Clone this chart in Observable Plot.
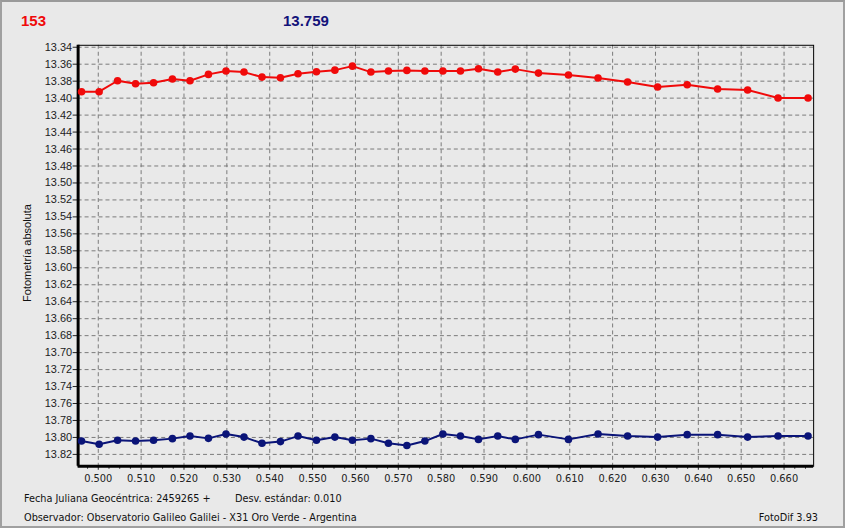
<!DOCTYPE html>
<html>
<head>
<meta charset="utf-8">
<script src="https://cdn.jsdelivr.net/npm/d3@7"></script>
<script src="https://cdn.jsdelivr.net/npm/@observablehq/plot@0.6"></script>
<style>
  html, body { margin: 0; padding: 0; }
  body { width: 845px; height: 528px; overflow: hidden; background: #ececec; }
  #win { position: relative; width: 845px; height: 528px; box-sizing: border-box;
         border: 2px solid #a0a0a0; border-top-color: #9a9a9a; background: #e9e9e9; }
  #chart { position: absolute; left: -2px; top: -2px; }
  .t { position: absolute; white-space: nowrap; }
  .title { font-family: "Liberation Sans", Arial, sans-serif; font-weight: bold; font-size: 15px; top: 10px; }
  .foot { font-family: "DejaVu Sans Condensed", "DejaVu Sans", sans-serif; font-stretch: condensed; font-size: 10.8px; color: #111; }
  .ylab { font-family: "Liberation Sans", Arial, sans-serif; font-size: 11px; color: #111;
          transform: translate(-50%, -50%) rotate(-90deg); }
</style>
</head>
<body>
<div id="win"></div>
<script>
// Data
const titleLeft = "153";
const titleRight = "13.759";
const yLabel = "Fotometría absoluta";
const footLine1a = "Fecha Juliana Geocéntrica: 2459265 +";
const footLine1b = "Desv. estándar: 0.010";
const footLine2 = "Observador: Observatorio Galileo Galilei - X31 Oro Verde - Argentina";
const footRight = "FotoDif 3.93";

const times = [0.4961, 0.5002, 0.5045, 0.5087, 0.5129, 0.5173, 0.5214, 0.5257, 0.5298, 0.5340,
               0.5382, 0.5425, 0.5466, 0.5509, 0.5552, 0.5593, 0.5636, 0.5677, 0.5720, 0.5762,
               0.5804, 0.5845, 0.5887, 0.5932, 0.5973, 0.6027, 0.6097, 0.6166, 0.6235, 0.6305,
               0.6374, 0.6445, 0.6515, 0.6586, 0.6656];
const redMag = [13.3924, 13.3924, 13.3795, 13.3830, 13.3819, 13.3775, 13.3795, 13.3720, 13.3681, 13.3693,
                13.3752, 13.3760, 13.3713, 13.3690, 13.3670, 13.3623, 13.3693, 13.3681, 13.3673, 13.3681,
                13.3681, 13.3681, 13.3654, 13.3693, 13.3658, 13.3705, 13.3728, 13.3763, 13.3810, 13.3869,
                13.3842, 13.3892, 13.3904, 13.3998, 13.3998];
const blueMag = [13.8043, 13.8081, 13.8034, 13.8043, 13.8034, 13.8014, 13.7984, 13.8011, 13.7960, 13.7996,
                 13.8069, 13.8049, 13.7984, 13.8034, 13.7996, 13.8034, 13.8014, 13.8069, 13.8096, 13.8043,
                 13.7960, 13.7984, 13.8023, 13.7984, 13.8023, 13.7967, 13.8023, 13.7960, 13.7984, 13.7996,
                 13.7967, 13.7967, 13.7996, 13.7984, 13.7984];

const xTicks = [0.500, 0.510, 0.520, 0.530, 0.540, 0.550, 0.560, 0.570, 0.580, 0.590,
                0.600, 0.610, 0.620, 0.630, 0.640, 0.650, 0.660];
const yTicks = [13.34, 13.36, 13.38, 13.40, 13.42, 13.44, 13.46, 13.48, 13.50, 13.52,
                13.54, 13.56, 13.58, 13.60, 13.62, 13.64, 13.66, 13.68, 13.70, 13.72,
                13.74, 13.76, 13.78, 13.80, 13.82];
const xMinor = d3.range(0, 68).map(i => +(0.4975 + i * 0.0025).toFixed(4))
  .filter(v => v < 0.6669 && !xTicks.some(t => Math.abs(t - v) < 1e-6));

const xDomain = [0.4953, 0.6669];
const yDomain = [13.3377, 13.834];

const red = times.map((t, i) => ({t, m: redMag[i]}));
const blue = times.map((t, i) => ({t, m: blueMag[i]}));

const redColor = "#f00a0a";
const blueColor = "#0a1478";
const gridStyle = {stroke: "#7a7a7a", strokeOpacity: 1, strokeDasharray: "4,3", strokeWidth: 1};

const chart = Plot.plot({
  width: 845,
  height: 528,
  marginLeft: 78,
  marginRight: 28,
  marginTop: 45,
  marginBottom: 60,
  style: {background: "transparent", fontFamily: "Liberation Sans, Arial, sans-serif", fontSize: "11px", color: "#222"},
  x: {domain: xDomain, label: null},
  y: {domain: yDomain, reverse: true, label: null},
  marks: [
    Plot.gridX(xTicks, gridStyle),
    Plot.gridY(yTicks, gridStyle),
    Plot.axisX(xMinor, {tickSize: 3, text: null, label: null, stroke: "#333"}),
    Plot.axisX(xTicks, {tickSize: 4, tickPadding: 4, tickFormat: d3.format(".3f"), label: null, fill: "#222",
      fontFamily: "DejaVu Sans Condensed, DejaVu Sans, sans-serif", fontSize: 11}),
    Plot.axisY(yTicks, {tickSize: 5, tickPadding: 1, tickFormat: d3.format(".2f"), label: null, fill: "#222"}),
    Plot.frame({stroke: "#000", strokeWidth: 1}),
    Plot.ruleX([xDomain[0]], {stroke: "#000", strokeWidth: 3}),
    Plot.ruleY([yDomain[1]], {stroke: "#000", strokeWidth: 3}),
    Plot.line(red, {x: "t", y: "m", stroke: redColor, strokeWidth: 2}),
    Plot.dot(red, {x: "t", y: "m", fill: redColor, r: 3.8}),
    Plot.line(blue, {x: "t", y: "m", stroke: blueColor, strokeWidth: 2}),
    Plot.dot(blue, {x: "t", y: "m", fill: blueColor, r: 3.8})
  ]
});
chart.id = "chart";
const win = document.getElementById("win");
win.appendChild(chart);

function addText(text, cls, css) {
  const d = document.createElement("div");
  d.className = "t " + cls;
  d.textContent = text;
  Object.assign(d.style, css);
  win.appendChild(d);
  return d;
}
addText(titleLeft, "title", {left: "19px", color: redColor});
addText(titleRight, "title", {left: "281px", color: "#13137a"});
addText(yLabel, "ylab", {left: "25px", top: "251px"});
addText(footLine1a, "foot", {left: "22px", top: "490px"});
addText(footLine1b, "foot", {left: "233px", top: "490px"});
addText(footLine2, "foot", {left: "22px", top: "509px"});
addText(footRight, "foot", {right: "25px", top: "509px"});
</script>
</body>
</html>
